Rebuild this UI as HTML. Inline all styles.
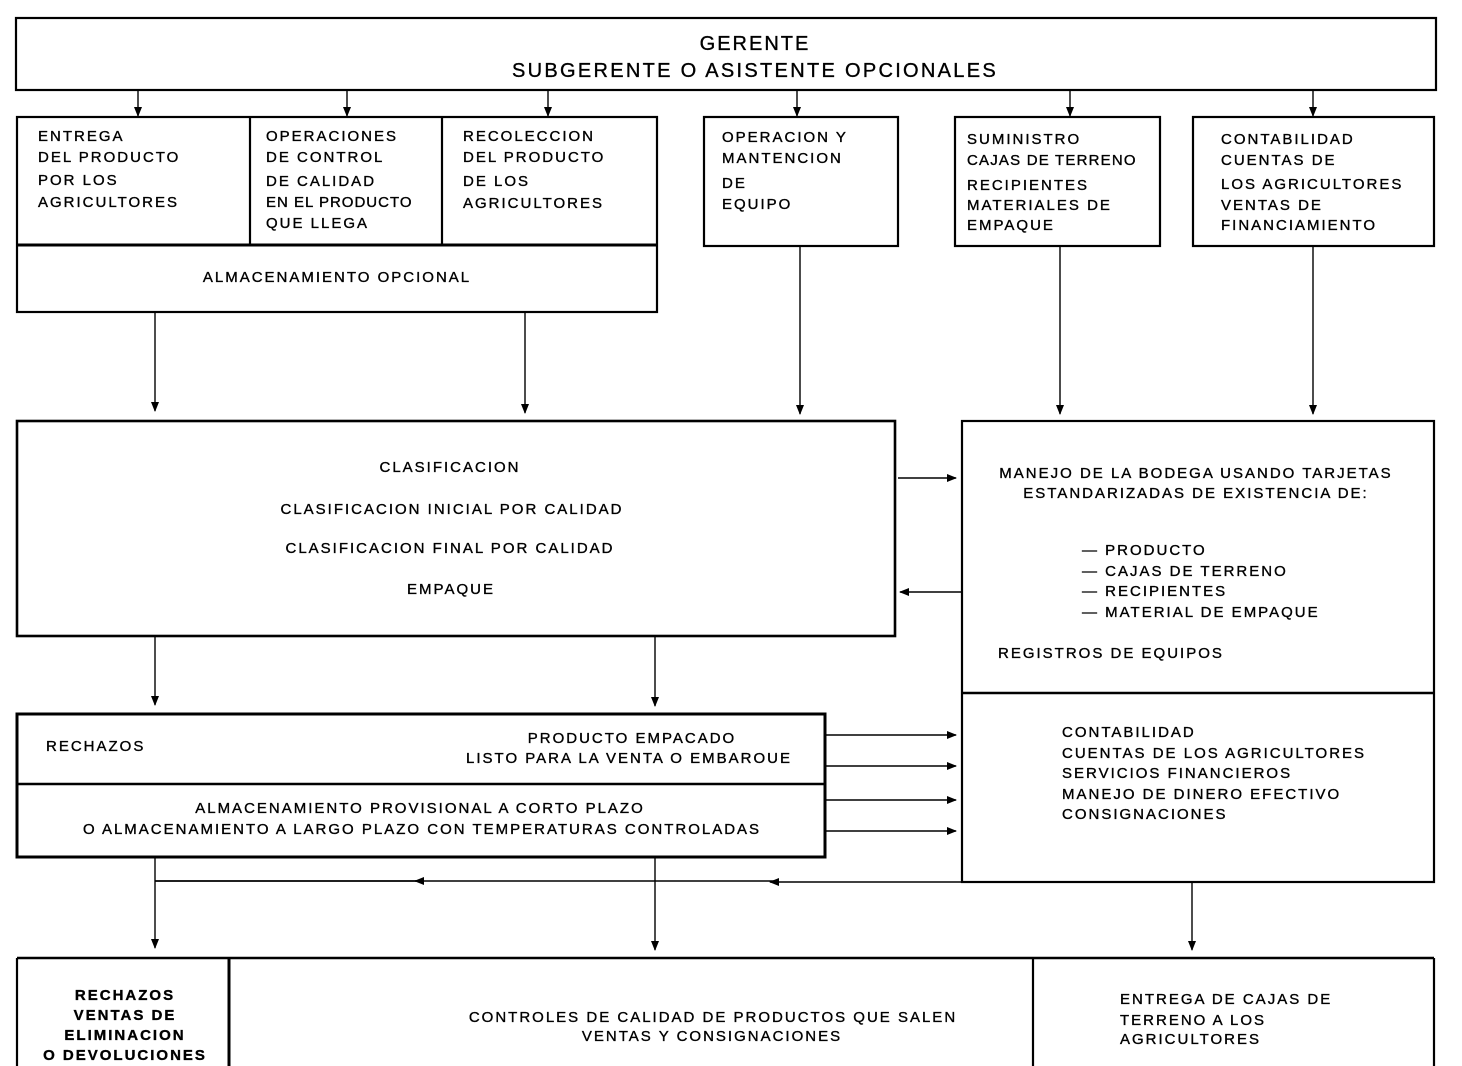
<!DOCTYPE html>
<html><head><meta charset="utf-8"><style>
html,body{margin:0;padding:0;background:#fff}
svg{display:block}
text{font-family:"Liberation Sans",sans-serif;font-size:15px;fill:#000;letter-spacing:2px;stroke:#000;stroke-width:0.35}
</style></head><body>
<svg width="1462" height="1066" viewBox="0 0 1462 1066" xmlns="http://www.w3.org/2000/svg">
<defs>
<marker id="a" markerWidth="10" markerHeight="10" refX="9" refY="5" orient="auto" markerUnits="userSpaceOnUse">
<path d="M0,1 L10,5 L0,9 Z" fill="#000"/></marker>
</defs>
<g fill="none" stroke="#000" stroke-width="2.2">
<rect x="16" y="18" width="1420" height="72"/>
<rect x="17" y="117" width="640" height="195"/>
<line x1="250" y1="117" x2="250" y2="245"/>
<line x1="442" y1="117" x2="442" y2="245"/>
<line x1="17" y1="245" x2="657" y2="245" stroke-width="3"/>
<rect x="704" y="117" width="194" height="129"/>
<rect x="955" y="117" width="205" height="129"/>
<rect x="1193" y="117" width="241" height="129"/>
<rect x="17" y="421" width="878" height="215" stroke-width="2.6"/>
<rect x="962" y="421" width="472" height="461"/>
<line x1="962" y1="693" x2="1434" y2="693" stroke-width="2.6"/>
<rect x="17" y="714" width="808" height="143" stroke-width="3"/>
<line x1="17" y1="784" x2="825" y2="784" stroke-width="2.6"/>
<line x1="17" y1="958" x2="1434" y2="958" stroke-width="2.6"/>
<line x1="17" y1="958" x2="17" y2="1066"/>
<line x1="229" y1="958" x2="229" y2="1066" stroke-width="3"/>
<line x1="1033" y1="958" x2="1033" y2="1066"/>
<line x1="1434" y1="958" x2="1434" y2="1066"/>
</g>
<g stroke="#000" stroke-width="1.4" marker-end="url(#a)">
<line x1="138" y1="90" x2="138" y2="116"/>
<line x1="347" y1="90" x2="347" y2="116"/>
<line x1="548" y1="90" x2="548" y2="116"/>
<line x1="797" y1="90" x2="797" y2="116"/>
<line x1="1070" y1="90" x2="1070" y2="116"/>
<line x1="1313" y1="90" x2="1313" y2="116"/>
<line x1="155" y1="312" x2="155" y2="411"/>
<line x1="525" y1="312" x2="525" y2="413"/>
<line x1="800" y1="246" x2="800" y2="414"/>
<line x1="1060" y1="246" x2="1060" y2="414"/>
<line x1="1313" y1="246" x2="1313" y2="414"/>
<line x1="898" y1="478" x2="956" y2="478"/>
<line x1="962" y1="592" x2="900" y2="592"/>
<line x1="155" y1="636" x2="155" y2="705"/>
<line x1="655" y1="636" x2="655" y2="706"/>
<line x1="825" y1="735" x2="956" y2="735"/>
<line x1="825" y1="766" x2="956" y2="766"/>
<line x1="825" y1="800" x2="956" y2="800"/>
<line x1="825" y1="831" x2="956" y2="831"/>
<line x1="155" y1="857" x2="155" y2="948"/>
<line x1="655" y1="857" x2="655" y2="950"/>
<line x1="1192" y1="882" x2="1192" y2="950"/>
<line x1="962" y1="882" x2="770" y2="882"/>
<line x1="775" y1="881" x2="415" y2="881"/>
</g>
<line x1="420" y1="881" x2="155" y2="881" stroke="#000" stroke-width="1.8"/>
<g>
<text x="755" y="50" text-anchor="middle" style="font-size:20px">GERENTE</text>
<text x="755" y="77" text-anchor="middle" style="font-size:20px;letter-spacing:2.3px">SUBGERENTE O ASISTENTE OPCIONALES</text>
<text x="38" y="141">ENTREGA</text><text x="38" y="162">DEL PRODUCTO</text><text x="38" y="185">POR LOS</text><text x="38" y="207">AGRICULTORES</text>
<text x="266" y="141">OPERACIONES</text><text x="266" y="162">DE CONTROL</text><text x="266" y="186">DE CALIDAD</text><text x="266" y="207" style="letter-spacing:1px">EN EL PRODUCTO</text><text x="266" y="228">QUE LLEGA</text>
<text x="463" y="141">RECOLECCION</text><text x="463" y="162">DEL PRODUCTO</text><text x="463" y="186">DE LOS</text><text x="463" y="208">AGRICULTORES</text>
<text x="337" y="282" text-anchor="middle">ALMACENAMIENTO OPCIONAL</text>
<text x="722" y="142">OPERACION Y</text><text x="722" y="163">MANTENCION</text><text x="722" y="188">DE</text><text x="722" y="209">EQUIPO</text>
<text x="967" y="144">SUMINISTRO</text><text x="967" y="165" style="letter-spacing:1.2px">CAJAS DE TERRENO</text><text x="967" y="190">RECIPIENTES</text><text x="967" y="210">MATERIALES DE</text><text x="967" y="230">EMPAQUE</text>
<text x="1221" y="144">CONTABILIDAD</text><text x="1221" y="165">CUENTAS DE</text><text x="1221" y="189">LOS AGRICULTORES</text><text x="1221" y="210">VENTAS DE</text><text x="1221" y="230">FINANCIAMIENTO</text>
<text x="450" y="472" text-anchor="middle">CLASIFICACION</text>
<text x="452" y="514" text-anchor="middle">CLASIFICACION INICIAL POR CALIDAD</text>
<text x="450" y="553" text-anchor="middle">CLASIFICACION FINAL POR CALIDAD</text>
<text x="451" y="594" text-anchor="middle">EMPAQUE</text>
<text x="1196" y="478" text-anchor="middle">MANEJO DE LA BODEGA USANDO TARJETAS</text>
<text x="1196" y="498" text-anchor="middle">ESTANDARIZADAS DE EXISTENCIA DE:</text>
<text x="1082" y="555">— PRODUCTO</text><text x="1082" y="576">— CAJAS DE TERRENO</text><text x="1082" y="596">— RECIPIENTES</text><text x="1082" y="617">— MATERIAL DE EMPAQUE</text>
<text x="998" y="658">REGISTROS DE EQUIPOS</text>
<text x="1062" y="737">CONTABILIDAD</text><text x="1062" y="758">CUENTAS DE LOS AGRICULTORES</text><text x="1062" y="778">SERVICIOS FINANCIEROS</text><text x="1062" y="799">MANEJO DE DINERO EFECTIVO</text><text x="1062" y="819">CONSIGNACIONES</text>
<text x="46" y="751">RECHAZOS</text>
<text x="632" y="743" text-anchor="middle">PRODUCTO EMPACADO</text>
<text x="629" y="763" text-anchor="middle">LISTO PARA LA VENTA O EMBAROUE</text>
<text x="420" y="813" text-anchor="middle">ALMACENAMIENTO PROVISIONAL A CORTO PLAZO</text>
<text x="422" y="834" text-anchor="middle">O ALMACENAMIENTO A LARGO PLAZO CON TEMPERATURAS CONTROLADAS</text>
<g style="font-weight:bold;font-size:14px;letter-spacing:1.4px">
<text x="125" y="1000" text-anchor="middle">RECHAZOS</text><text x="125" y="1020" text-anchor="middle">VENTAS DE</text><text x="125" y="1040" text-anchor="middle">ELIMINACION</text><text x="125" y="1060" text-anchor="middle">O DEVOLUCIONES</text>
</g>
<text x="713" y="1022" text-anchor="middle">CONTROLES DE CALIDAD DE PRODUCTOS QUE SALEN</text>
<text x="712" y="1041" text-anchor="middle">VENTAS Y CONSIGNACIONES</text>
<text x="1120" y="1004">ENTREGA DE CAJAS DE</text><text x="1120" y="1025">TERRENO A LOS</text><text x="1120" y="1044">AGRICULTORES</text>
</g>
</svg>
</body></html>
